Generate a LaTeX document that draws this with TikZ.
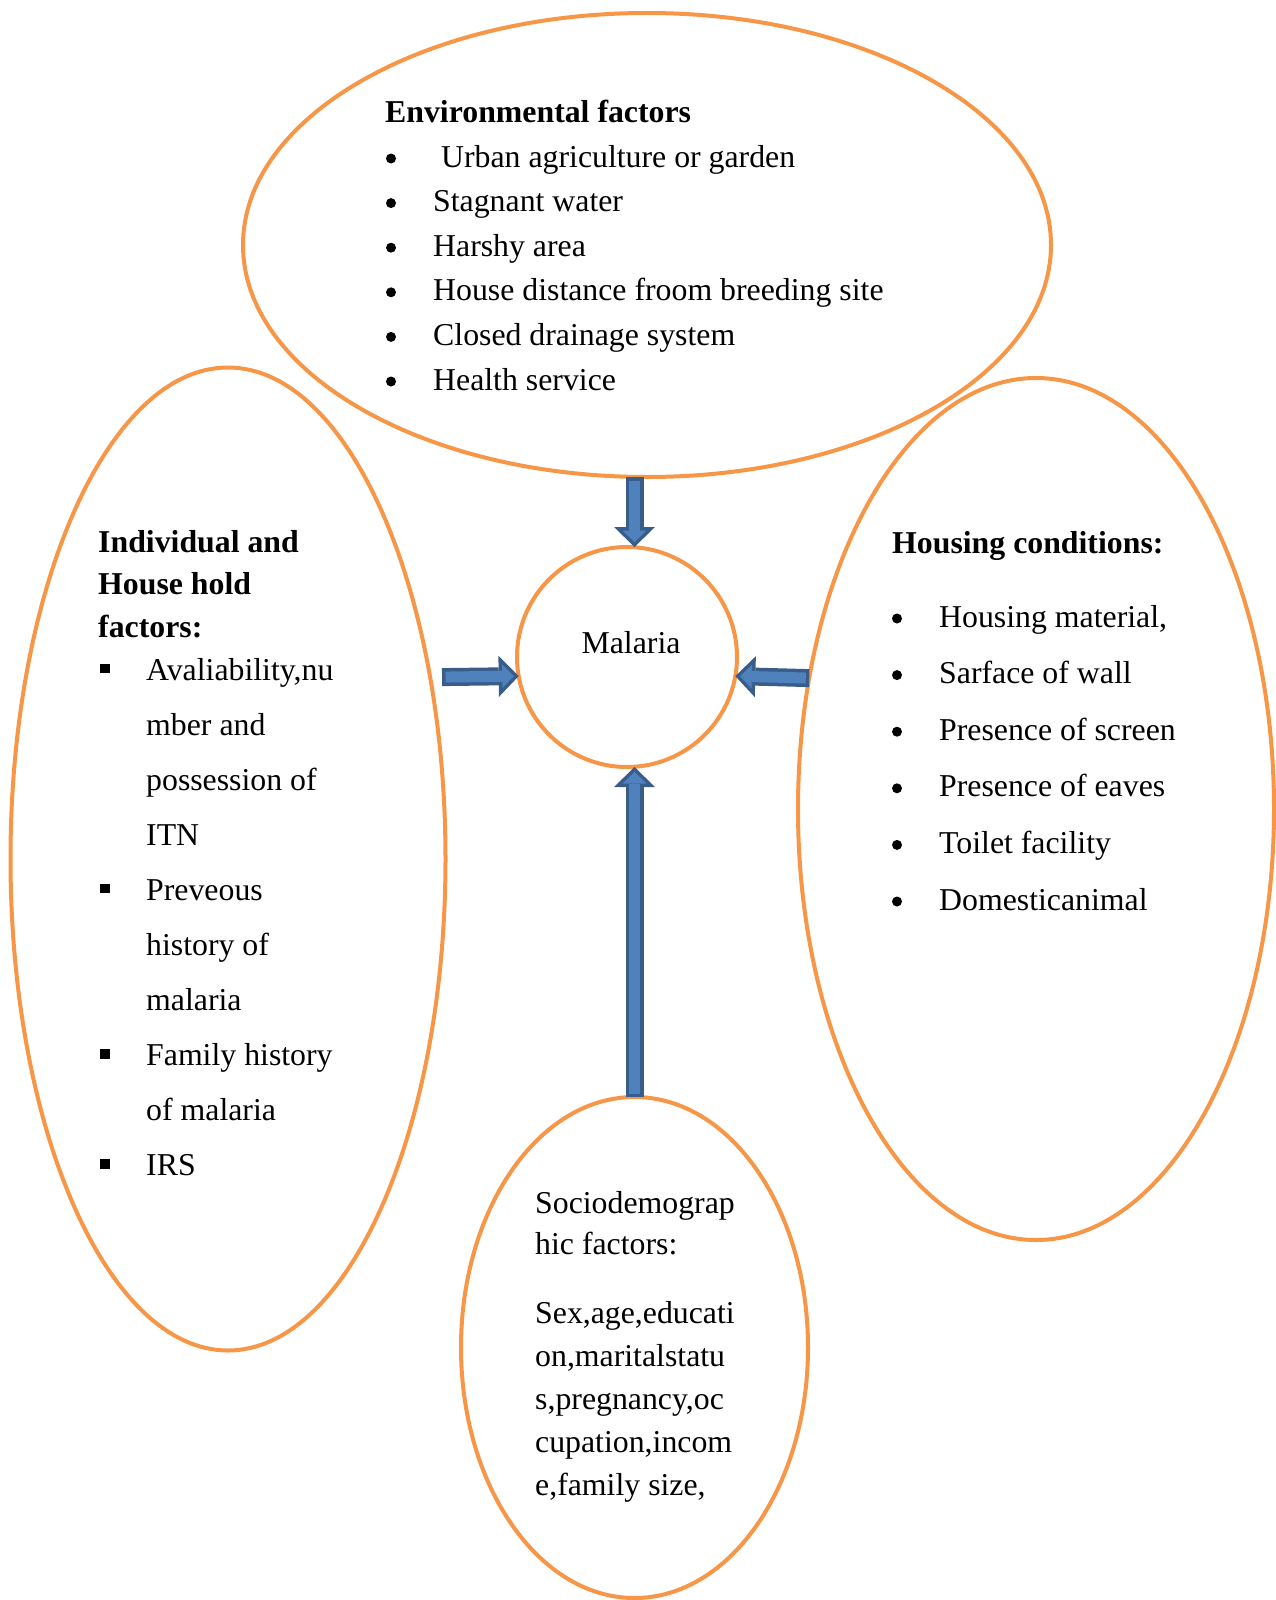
\documentclass[tikz,border=0pt]{standalone}
\usepackage{fontspec}
\setmainfont{Liberation Serif}
\usetikzlibrary{shapes.geometric,arrows.meta}

\definecolor{ovalorange}{HTML}{F79646}
\definecolor{arrowfill}{HTML}{4F81BD}
\definecolor{arrowedge}{HTML}{385D8A}

\tikzset{
  oval/.style={ellipse, draw=ovalorange, line width=4pt, inner sep=0pt, outer sep=0pt},
  txt/.style={anchor=base west, inner sep=0pt, font=\fontsize{31.8pt}{38pt}\selectfont},
  headtxt/.style={txt, font=\fontsize{31.8pt}{38pt}\selectfont\bfseries},
  bulletmark/.style={circle, fill=black, minimum size=10pt, inner sep=0pt},
}

% block arrow: dark outline, light inside
\newcommand{\fatarrow}[2]{%
  \draw[arrowedge, line width=18pt, -{Triangle[width=41pt,length=20pt,line width=0pt]}] #1 -- #2;
  \draw[arrowfill, line width=11pt, shorten <=3.5pt, shorten >=4.8pt,
        -{Triangle[width=23.6pt,length=11.7pt,line width=0pt]}] #1 -- #2;}

\begin{document}
\begin{tikzpicture}[x=1pt,y=-1pt]
\useasboundingbox (0,0) rectangle (1275,1600);

% ovals and the centre circle
\node[oval, minimum width=808pt, minimum height=464pt] (env) at (647,245) {};
\node[oval, minimum width=435pt, minimum height=983pt] (indiv) at (228,859) {};
\node[oval, minimum width=476pt, minimum height=862pt] (housing) at (1036,809) {};
\node[oval, minimum width=347pt, minimum height=501pt] (socio) at (634.5,1347.5) {};
\node[circle, draw=ovalorange, line width=4pt, minimum size=220pt, inner sep=0pt, outer sep=0pt] (malaria) at (627,657) {};
\node[txt, anchor=base] (malaria-txt) at (631,653) {Malaria};

% environmental factors
\node[headtxt] (env-head) at (385,123) {Environmental factors};
\foreach \entry [count=\i] in {\ Urban agriculture or garden, Stagnant water, Harshy area,
    House distance froom breeding site, Closed drainage system, Health service}{
  \node[bulletmark] (env-dot\i) at (391,{158.5+44.6*(\i-1)}) {};
  \node[txt] (env-\i) at (433,{167+44.6*(\i-1)}) {\entry};
}

% individual and house hold
\foreach \entry [count=\i] in {Individual and, House hold, factors:}
  \node[headtxt] (indiv-head\i) at (98,{552+42.5*(\i-1)}) {\entry};
\foreach \entry [count=\i] in {{Avaliability,nu}, mber and, possession of, ITN, Preveous,
    history of, malaria, Family history, of malaria, IRS}
  \node[txt] (indiv-\i) at (146,{680+55.1*(\i-1)}) {\entry};
\foreach \i in {1,5,8,10}
  \node[txt] (indiv-sq\i) at (100,{680+55.1*(\i-1)}) {\rule[7pt]{9.5pt}{9.5pt}};

% housing conditions
\node[headtxt] (housing-head) at (892,553) {Housing conditions:};
\foreach \entry [count=\i] in {{Housing material,}, Sarface of wall, Presence of screen,
    Presence of eaves, Toilet facility, Domesticanimal}{
  \node[bulletmark] (housing-dot\i) at (897,{618.5+56.6*(\i-1)}) {};
  \node[txt] (housing-\i) at (939,{627+56.6*(\i-1)}) {\entry};
}

% sociodemographic
\node[txt] (socio-head1) at (535,1213) {Sociodemograp};
\node[txt] (socio-head2) at (535,1254) {hic factors:};
\foreach \entry [count=\i] in {{Sex,age,educati}, {on,maritalstatu}, {s,pregnancy,oc},
    {cupation,incom}, {e,family size,}}
  \node[txt] (socio-\i) at (535,{1323.5+42.9*(\i-1)}) {\entry};

% arrows into malaria
\fatarrow{(env.south -| socio.north)}{(malaria.north -| socio.north)}
\fatarrow{([xshift=12pt]indiv.42)}{(malaria.190)}
\fatarrow{(housing.150)}{(malaria.-10)}
\fatarrow{(socio.north)}{(malaria.south -| socio.north)}
\end{tikzpicture}
\end{document}
